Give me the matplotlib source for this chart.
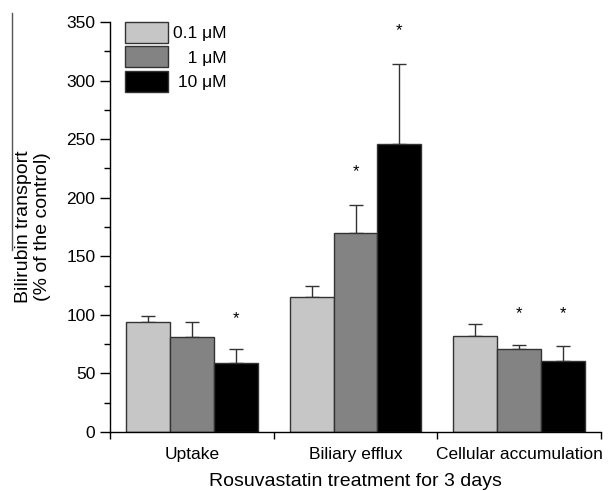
import numpy as np
from matplotlib import pyplot as plt
from matplotlib.lines import Line2D

plt.rcParams['font.family'] = ['Liberation Sans', 'DejaVu Sans']

# 数据
groups = ['Uptake', 'Biliary efflux', 'Cellular accumulation']
doses = ['0.1 \u03bcM', '1 \u03bcM', '10 \u03bcM']
legend_labels = ['0.1 \u03bcM', '   1 \u03bcM', ' 10 \u03bcM']
means = np.array([
    [94, 115, 82],    # 0.1 uM
    [81, 170, 71],    # 1 uM
    [59, 246, 61],    # 10 uM
])
errs = np.array([
    [5, 10, 10],
    [13, 24, 3.5],
    [12, 68, 12.5],
])
# 显著性标记 (dose index, group index, y)
stars = [(2, 0, 97), (1, 1, 222), (2, 1, 343), (1, 2, 101), (2, 2, 101)]

colors = ['#c6c6c6', '#838383', '#000000']

fig = plt.figure(figsize=(6.09, 4.91), dpi=100)
ax = fig.add_axes([0.1806, 0.1202, 0.8064, 0.835])

x = np.arange(1, len(groups) + 1)
w = 0.268
for i in range(len(doses)):
    xi = x + (i - 1) * w
    ax.bar(xi, means[i], w, color=colors[i], edgecolor='#333333', linewidth=1.0,
           label=legend_labels[i], zorder=2)
    ax.errorbar(xi, means[i], yerr=[np.zeros(len(groups)), errs[i]], fmt='none',
                ecolor='#333333', elinewidth=1.0, capsize=5, capthick=1.0, zorder=1)

for d, g, y in stars:
    ax.text(x[g] + (d - 1) * w, y, '*', ha='center', va='center', fontsize=12)

ax.set_xlim(0.5, 3.5)
ax.set_ylim(0, 350)
ax.spines['top'].set_visible(False)
ax.spines['right'].set_visible(False)
ax.spines['left'].set_linewidth(1.0)
ax.spines['bottom'].set_linewidth(1.0)

ax.set_yticks(np.arange(0, 351, 50))
ax.set_yticks(np.arange(25, 351, 50), minor=True)
ax.tick_params(axis='y', which='major', length=7, width=1, labelsize=12.5, direction='out')
ax.tick_params(axis='y', which='minor', length=4, width=1, direction='out')

ax.set_xticks([0.5, 1.5, 2.5, 3.5])
ax.set_xticklabels([])
ax.set_xticks(x, minor=True)
ax.set_xticklabels(groups, minor=True)
ax.tick_params(axis='x', which='major', length=5, width=1, direction='out')
ax.tick_params(axis='x', which='minor', length=0, labelsize=12.5, pad=11)

ax.set_xlabel('Rosuvastatin treatment for 3 days', fontsize=14, labelpad=8)
fig.text(0.054, 0.538, 'Bilirubin transport\n(% of the control)', rotation=90,
         ha='center', va='center', fontsize=14, linespacing=1.15)

ax.legend(loc='upper left', bbox_to_anchor=(0.03, 1.0), frameon=False, fontsize=12.5,
          handlelength=2.5, handleheight=1.5, labelspacing=0.18, handletextpad=0.3,
          borderaxespad=0, borderpad=0)

# 左侧裁剪残留的竖线
fig.add_artist(Line2D([12 / 609, 12 / 609], [1 - 13 / 491, 1 - 250 / 491],
                      color='#555555', linewidth=1.0))

fig.savefig('out.png', dpi=100)
